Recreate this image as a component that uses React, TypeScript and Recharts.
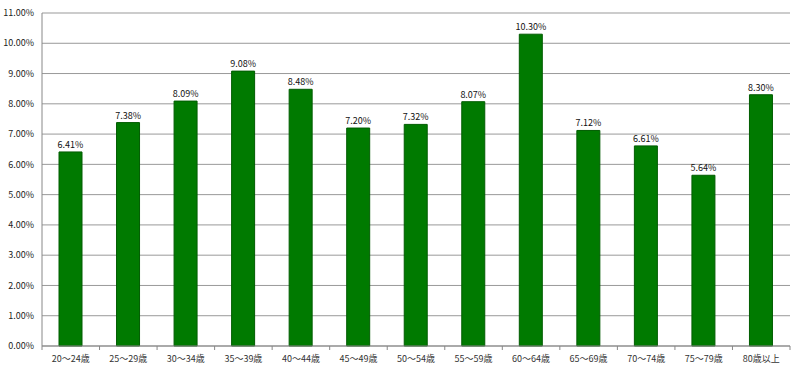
import React from 'react';
import { BarChart, Bar, XAxis, YAxis, CartesianGrid, LabelList } from 'recharts';

const categories = [
  '20～24歳', '25～29歳', '30～34歳', '35～39歳', '40～44歳', '45～49歳', '50～54歳',
  '55～59歳', '60～64歳', '65～69歳', '70～74歳', '75～79歳', '80歳以上',
];
const shares = [6.41, 7.38, 8.09, 9.08, 8.48, 7.2, 7.32, 8.07, 10.3, 7.12, 6.61, 5.64, 8.3];
const yTicks = [0, 1, 2, 3, 4, 5, 6, 7, 8, 9, 10, 11];

const data = categories.map((name, i) => ({ name, value: shares[i] }));

const W = 800;
const H = 370;
const LEFT = 42;
const RIGHT = 10;
const halfBand = (W - LEFT - RIGHT) / categories.length / 2;

const font = '"Noto Sans CJK JP", "DejaVu Sans", sans-serif';

const XTick = ({ x, y, payload, index }: any) => (
  <g>
    <line x1={x - halfBand} x2={x - halfBand} y1={y - 8} y2={y - 4} stroke="#888" />
    {index === categories.length - 1 && (
      <line x1={x + halfBand} x2={x + halfBand} y1={y - 8} y2={y - 4} stroke="#888" />
    )}
    <text x={x} y={y + 8} textAnchor="middle" fontSize={9} fill="#333" fontFamily={font}>
      {payload.value}
    </text>
  </g>
);

export default function App() {
  return (
    <div style={{ position: 'fixed', left: 0, top: 0, width: W, height: H, background: '#fff' }}>
      <BarChart
        width={W}
        height={H}
        data={data}
        margin={{ top: 13, right: RIGHT, left: 0, bottom: 4 }}
        barCategoryGap="20%"
      >
        <CartesianGrid vertical={false} stroke="#999" />
        <XAxis
          dataKey="name"
          axisLine={{ stroke: '#888' }}
          tickLine={false}
          tick={<XTick />}
          height={20}
          interval={0}
        />
        <YAxis
          domain={[0, 11]}
          ticks={yTicks}
          width={LEFT}
          axisLine={{ stroke: '#888' }}
          tickLine={false}
          tick={{ fontSize: 9, fill: '#222', fontFamily: font }}
          tickFormatter={(v: number) => v.toFixed(2) + '%'}
        />
        <YAxis
          yAxisId="r"
          orientation="right"
          width={0}
          tick={false}
          tickLine={false}
          axisLine={{ stroke: '#ccc' }}
        />
        <Bar dataKey="value" fill="#007A00" stroke="#005C00" barSize={23} isAnimationActive={false}>
          <LabelList
            dataKey="value"
            position="top"
            offset={4}
            formatter={(v: any) => Number(v).toFixed(2) + '%'}
            style={{ fontSize: 9, fill: '#111', fontFamily: font }}
          />
        </Bar>
      </BarChart>
    </div>
  );
}
